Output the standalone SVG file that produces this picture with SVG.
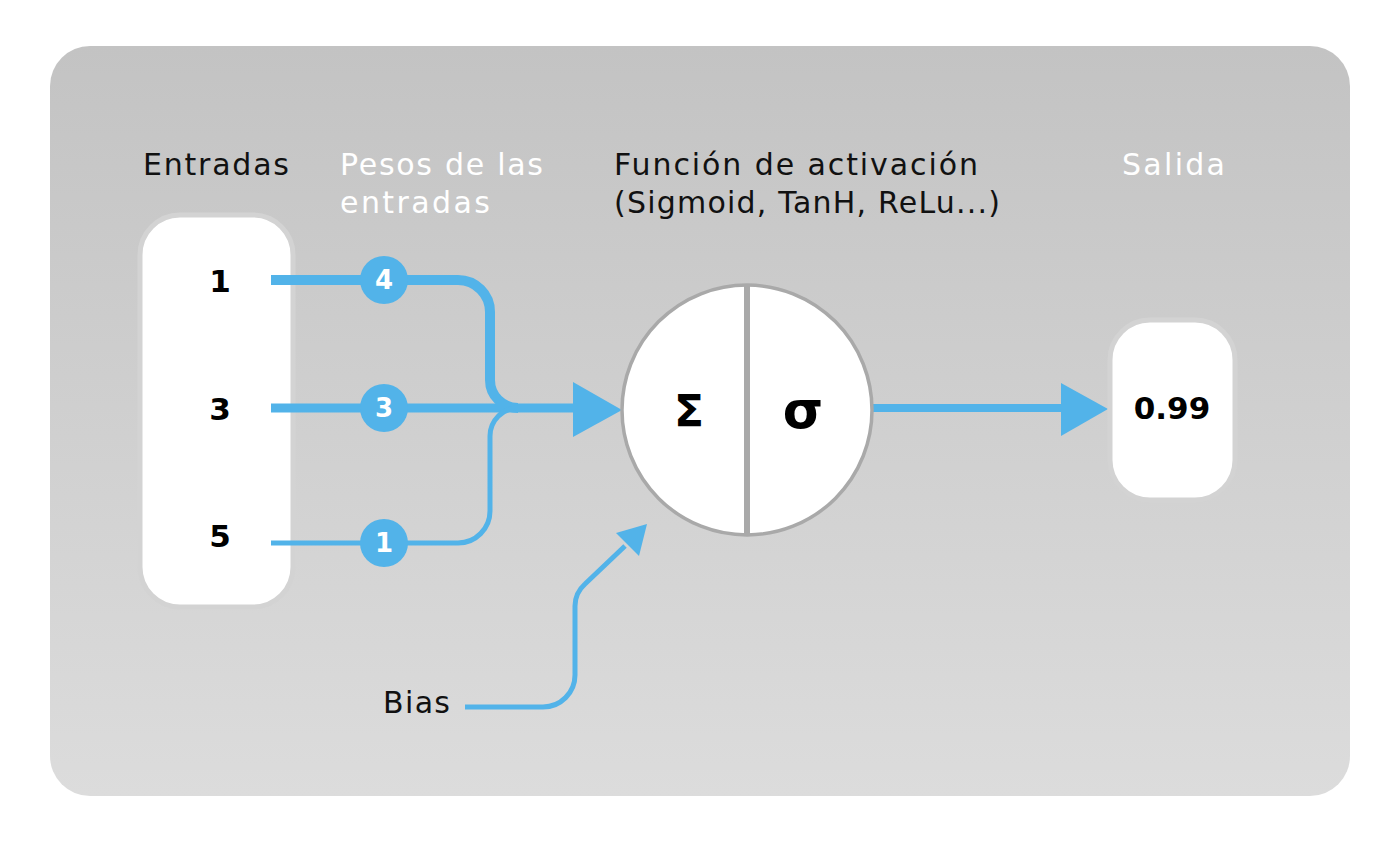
<svg xmlns="http://www.w3.org/2000/svg" width="1400" height="842" viewBox="0 0 1400 842">
  <defs>
    <linearGradient id="bg" x1="0" y1="0" x2="0" y2="1">
      <stop offset="0" stop-color="#c3c3c3"/>
      <stop offset="1" stop-color="#dcdcdc"/>
    </linearGradient>
  </defs>
  <style>
    .head { font-family: "DejaVu Sans", "Liberation Sans", sans-serif; font-size: 30px; }
    .dark { fill: #111111; }
    .light { fill: #ffffff; }
    .num { font-family: "DejaVu Sans", "Liberation Sans", sans-serif; font-weight: bold; font-size: 31px; fill: #000000; text-anchor: middle; }
    .wnum { font-family: "DejaVu Sans", "Liberation Sans", sans-serif; font-weight: bold; font-size: 26px; fill: #ffffff; text-anchor: middle; }
    .box { fill: #ffffff; stroke: #d3d3d3; stroke-width: 5; }
    .wire { fill: none; stroke: #52b3e9; stroke-linecap: butt; }
    .head-arrow { fill: #52b3e9; }
    .weight { fill: #52b3e9; }
    .sym { font-family: "DejaVu Sans", "Liberation Sans", sans-serif; font-weight: bold; fill: #000000; text-anchor: middle; }
  </style>

  <rect x="50" y="46" width="1300" height="750" rx="40" fill="url(#bg)"/>

  <g id="titles">
    <text class="head dark" x="143" y="175" textLength="146" lengthAdjust="spacing">Entradas</text>
    <text class="head light" x="340" y="175" textLength="203" lengthAdjust="spacing">Pesos de las</text>
    <text class="head light" x="340" y="213" textLength="150" lengthAdjust="spacing">entradas</text>
    <text class="head dark" x="614" y="175" textLength="364" lengthAdjust="spacing">Función de activación</text>
    <text class="head dark" x="614" y="213" textLength="386" lengthAdjust="spacing">(Sigmoid, TanH, ReLu...)</text>
    <text class="head light" x="1122" y="175" textLength="103" lengthAdjust="spacing">Salida</text>
  </g>

  <g id="inputs">
    <rect class="box" x="140" y="215" width="153" height="392" rx="40"/>
    <text class="num" x="220" y="292">1</text>
    <text class="num" x="220" y="420">3</text>
    <text class="num" x="220" y="547">5</text>
  </g>

  <g id="connectors">
    <path class="wire" stroke-width="10" d="M271,280 H458 A32,32 0 0 1 490,312 V380 A28,28 0 0 0 518,408"/>
    <path class="wire" stroke-width="9" d="M271,408 H578"/>
    <path class="wire" stroke-width="5" d="M271,543 H458 A32,32 0 0 0 490,511 V436 A28,28 0 0 1 518,408"/>
    <polygon class="head-arrow" points="573,382 622,410 573,437"/>
    <path class="wire" stroke-width="8" d="M873,408 H1066"/>
    <polygon class="head-arrow" points="1061,383 1108,409 1061,436"/>
    <path class="wire" stroke-width="5" d="M465,707 H543 A32,32 0 0 0 575,675 V606 Q575,593 585,584 L625,546"/>
    <polygon class="head-arrow" points="647,524 616,533 639,556"/>
  </g>

  <g id="weights">
    <circle class="weight" cx="384" cy="280" r="24"/>
    <text class="wnum" x="384" y="289">4</text>
    <circle class="weight" cx="384" cy="408" r="24"/>
    <text class="wnum" x="384" y="417">3</text>
    <circle class="weight" cx="384" cy="543" r="24"/>
    <text class="wnum" x="384" y="552">1</text>
  </g>

  <g id="neuron">
    <circle cx="747" cy="410" r="125" fill="#ffffff" stroke="#a9a9a9" stroke-width="3.5"/>
    <line x1="747" y1="286" x2="747" y2="534" stroke="#a9a9a9" stroke-width="6"/>
    <text class="sym" x="689" y="427" font-size="44">Σ</text>
    <text class="sym" x="803" y="428" font-size="52">σ</text>
  </g>

  <g id="output">
    <rect class="box" x="1110" y="320" width="125" height="180" rx="40"/>
    <text class="num" x="1172" y="419" font-size="28">0.99</text>
  </g>

  <g id="bias">
    <text class="head dark" x="383" y="713" textLength="67" lengthAdjust="spacing">Bias</text>
  </g>
</svg>
